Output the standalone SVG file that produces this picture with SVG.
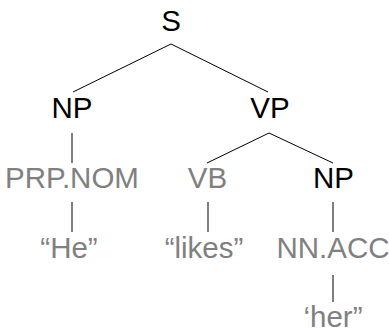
<svg xmlns="http://www.w3.org/2000/svg" width="389" height="329" viewBox="0 0 389 329">
<style>
text{font-family:"Liberation Sans",Arial,sans-serif;font-size:29.5px;text-anchor:middle}
.k{fill:#000}
.g{fill:#808080}
.e{stroke:#000;stroke-width:1;fill:none}
</style>
<rect width="389" height="329" fill="#fff"/>
<g id="connectors">
<line class="e" x1="171" y1="44" x2="73" y2="92"/>
<line class="e" x1="171" y1="44" x2="268" y2="92"/>
<line class="e" x1="72" y1="133" x2="72" y2="163"/>
<line class="e" x1="269" y1="133" x2="207" y2="163"/>
<line class="e" x1="269" y1="133" x2="333" y2="163"/>
<line class="e" x1="72" y1="202" x2="72" y2="232"/>
<line class="e" x1="208" y1="202" x2="208" y2="232"/>
<line class="e" x1="333" y1="202" x2="333" y2="232"/>
<line class="e" x1="333" y1="275" x2="333" y2="302"/>
</g>
<g id="n-S"><text class="k" x="171" y="31">S</text></g>
<g id="n-NP1"><text class="k" x="72" y="118">NP</text></g>
<g id="n-VP"><text class="k" x="270" y="118">VP</text></g>
<g id="n-PRP"><text class="g" x="72" y="188">PRP.NOM</text></g>
<g id="n-VB"><text class="g" x="207.5" y="188">VB</text></g>
<g id="n-NP2"><text class="k" x="333.5" y="188">NP</text></g>
<g id="n-He"><text class="g" x="69" y="258">“He”</text></g>
<g id="n-likes"><text class="g" x="204" y="258">“likes”</text></g>
<g id="n-NN"><text class="g" x="333" y="258">NN.ACC</text></g>
<g id="n-her"><text class="g" x="333" y="327">‘her”</text></g>
</svg>
